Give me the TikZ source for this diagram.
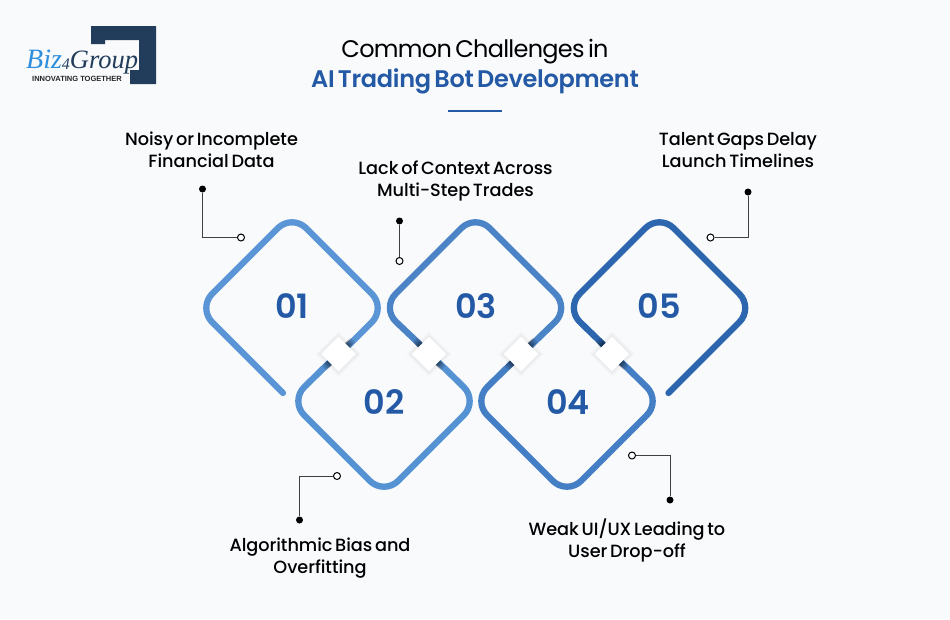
\documentclass[tikz,border=0pt]{standalone}
\usepackage{fontspec}
\setmainfont{Poppins}
\newfontfamily\titlefont{Poppins}[WordSpace=0.6,LetterSpace=-3]
\newfontfamily\titlesemi{Poppins SemiBold}[WordSpace=0.6,LetterSpace=-1.2]
\newfontfamily\popmed{Poppins Medium}[WordSpace=0.6,LetterSpace=-0.3]
\newfontfamily\popsemi{Poppins SemiBold}
\newfontfamily\logoserif{Liberation Serif}
\newfontfamily\logosans{Liberation Sans}
\definecolor{pagebg}{HTML}{F8FAFC}
\definecolor{cA}{HTML}{5A96D6}
\definecolor{cB}{HTML}{5492D4}
\definecolor{cC}{HTML}{4A84C7}
\definecolor{cD}{HTML}{447FC5}
\definecolor{cE}{HTML}{2C66AF}
\definecolor{numblue}{HTML}{2459A6}
\definecolor{navy}{HTML}{213D5B}
\definecolor{logoblue}{HTML}{2F8FDD}
\usetikzlibrary{shapes.geometric,calc}
\tikzset{
  loop/.style={line width=6.3pt,line cap=round,line join=round,rounded corners=20pt},
  lbl/.style={font=\popmed\fontsize{17.7}{22}\selectfont,align=center,text=black,inner sep=0pt},
  num/.style={font=\popsemi\fontsize{33.5}{36}\selectfont,text=numblue,inner sep=0pt},
  leader/.style={draw=black!75,line width=1pt},
  opendot/.style={circle,draw=black,line width=1pt,fill=white,minimum size=7pt,inner sep=0pt},
  fulldot/.style={circle,fill=black,minimum size=7pt,inner sep=0pt},
  bridge/.style={diamond,fill=white,minimum size=35pt,inner sep=0pt},
}
% darkening of the band next to a crossing square, and its soft halo
\newcommand{\bridgeshade}[3]{%
  \foreach \o in {14,16,18,20}{
    \draw[black,opacity=.13,line width=6.3pt] ($(#1)+(#2*\o*.7071,#3*\o*.7071)$) -- ($(#1)-(#2*\o*.7071,#3*\o*.7071)$);
  }
  \foreach \o in {18,19,20,21,22,23}{
    \fill[black,opacity=.01] ($(#1)+(\o,0)$) -- ($(#1)+(0,\o)$) -- ($(#1)-(\o,0)$) -- ($(#1)-(0,\o)$) -- cycle;
  }}
\begin{document}
\begin{tikzpicture}[x=1pt,y=-1pt]
\useasboundingbox (0,0) rectangle (950,619);
\fill[pagebg] (0,0) rectangle (950,619);

% logo
\fill[navy] (91,26) -- (156,26) -- (156,84) -- (130,84) -- (130,70) -- (139,70) -- (139,40) -- (105,40) -- (105,44) -- (91,44) -- cycle;
\node[inner sep=0pt,anchor=base west,font=\logoserif\itshape\fontsize{26.5}{28}\selectfont,text=navy] (logo) at (26,68)
  {\textcolor{logoblue}{\fontsize{28}{28}\selectfont Biz}\raisebox{-1.5pt}{\fontsize{16}{16}\selectfont 4}Group};
\node[inner sep=0pt,anchor=base,font=\logosans\bfseries\fontsize{7.5}{8}\selectfont,text=black!85] (logoD) at (77,81) {INNOVATING TOGETHER};

% title
\node[inner sep=0pt,font=\titlefont\fontsize{24}{30}\selectfont,text=black] (title) at (475,52) {Common Challenges in};
\node[inner sep=0pt,font=\titlesemi\fontsize{24}{30}\selectfont,text=numblue] (title2) at (475,81) {AI Trading Bot Development};
\draw[numblue,line width=1.5pt] (448,111) -- (502,111);

% loops
\draw[loop,cA] (283,393) -- (198,308) -- (292,214) -- (386,308) -- (339,355);
\draw[loop,cB] (338,354) -- (290,401) -- (384,495) -- (478,401) -- (430,354);
\draw[loop,cC] (430,354) -- (381.5,308) -- (475.5,214) -- (569.5,308) -- (521,355);
\draw[loop,cD] (521,354) -- (473,401) -- (567,495) -- (661,401) -- (613,354);
\draw[loop,cE] (613,354) -- (565.5,308) -- (659.5,214) -- (753.5,308) -- (668.5,393);

% crossings
\bridgeshade{338.5,354}{1}{-1}
\bridgeshade{429,354}{1}{1}
\bridgeshade{521,354}{1}{-1}
\bridgeshade{612,354}{1}{1}
\node[bridge] (b1) at (338.5,354) {};
\node[bridge] (b2) at (429,354) {};
\node[bridge] (b3) at (521,354) {};
\node[bridge] (b4) at (612,354) {};

% numbers
\node[num] (n1) at (292,306) {01};
\node[num] (n2) at (384,402) {02};
\node[num] (n3) at (476,306) {03};
\node[num] (n4) at (568,402) {04};
\node[num] (n5) at (659,306) {05};

% labels
\node[lbl] (t1) at (211.5,149.5) {Noisy or Incomplete\\Financial Data};
\node[lbl] (t2) at (320,558) {Algorithmic Bias and\\Overfitting};
\node[lbl] (t3) at (455.5,181) {Lack of Context Across\\Multi-Step Trades};
\node[lbl] (t4) at (627,540) {Weak UI/UX Leading to\\User Drop-off};
\node[lbl] (t5) at (738,150.5) {Talent Gaps Delay\\Launch Timelines};

% leaders
\node[fulldot] (d1) at (202.5,189) {};
\node[opendot] (o1) at (241,237.5) {};
\draw[leader] (d1) |- (o1);
\node[fulldot] (d2) at (299.5,520) {};
\node[opendot] (o2) at (337,476) {};
\draw[leader] (d2) |- (o2);
\node[fulldot] (d3) at (399.5,221) {};
\node[opendot] (o3) at (399.5,261) {};
\draw[leader] (d3) -- (o3);
\node[fulldot] (d4) at (670,500) {};
\node[opendot] (o4) at (632,455.5) {};
\draw[leader] (d4) |- (o4);
\node[fulldot] (d5) at (748,192) {};
\node[opendot] (o5) at (710.5,237.5) {};
\draw[leader] (d5) |- (o5);
\end{tikzpicture}
\end{document}
